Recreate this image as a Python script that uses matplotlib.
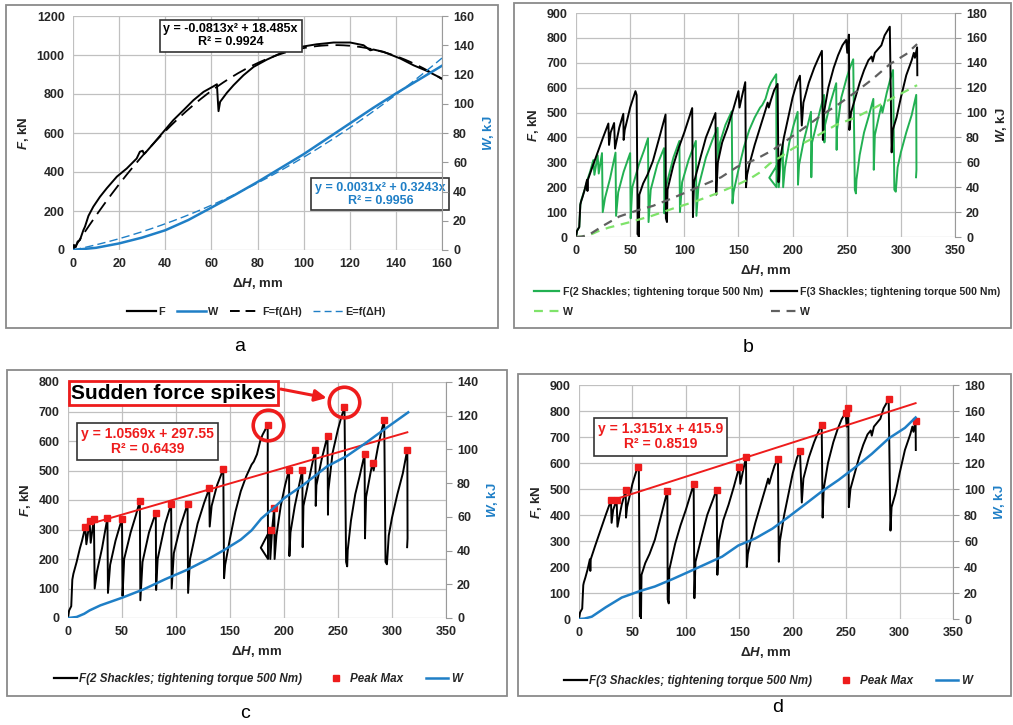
import numpy as np
import matplotlib
matplotlib.use("Agg")
import matplotlib.pyplot as plt
from matplotlib.patches import Rectangle
from matplotlib.lines import Line2D

plt.rcParams["font.family"] = ["Liberation Sans", "DejaVu Sans"]
plt.rcParams["font.weight"] = "bold"
plt.rcParams["axes.labelweight"] = "bold"
plt.rcParams["mathtext.fontset"] = "custom"
plt.rcParams["mathtext.it"] = "Liberation Sans:italic:bold"
plt.rcParams["mathtext.rm"] = "Liberation Sans:bold"

W_PX, H_PX = 1013, 725

BLUE = "#1f7fc6"
RED = "#ee1c1c"
GREEN = "#22b052"
LIGHT_GREEN = "#7fe36a"
GREY = "#606060"
TEXT = "#262626"

# single specimen, 0-160 mm  (dH mm, F kN) / (dH mm, W kJ)
a_force = [(0, 0), (0.4, 26), (1.2, 15), (2, 43), (3, 51), (4.5, 102), (5.2, 120), (6.7, 175),
           (8.8, 222), (11.7, 273), (14.6, 316), (19, 376), (23.3, 418), (27.6, 469), (29, 504),
           (30.2, 509), (30.8, 492), (31.5, 500), (34.9, 546), (39.2, 606), (43.5, 666),
           (47.9, 717), (52.2, 768), (56.6, 811), (61, 840), (62.4, 850), (62.8, 768), (63.1, 712),
           (63.8, 760), (66.7, 806), (69.6, 845), (73.9, 896), (78.3, 939), (84, 976), (91.3, 1016),
           (98.5, 1041), (105.7, 1055), (113, 1064), (120.2, 1064), (126, 1050), (128.9, 1024),
           (130.3, 1028), (134.7, 1016), (141.9, 982), (147.7, 947), (153.5, 918), (160, 879)]
a_work = [(0, 0), (10, 1.5), (20, 4.5), (30, 8.5), (40, 13.5), (50, 20.5), (60, 29), (70, 37.5),
          (80, 46.5), (90, 56), (100, 65.5), (110, 76), (120, 86.5), (130, 97), (140, 107),
          (150, 116.5), (160, 126)]
a_force_fit = [-0.0813, 18.485, 0.0]
a_work_fit = [0.0031, 0.3243, 0.0]

# 2 shackles, tightening torque 500 Nm
f2_curve = [(0, 0), (1, 25), (3, 40), (4, 130), (5, 150), (8, 190), (11, 236), (13, 262), (16, 309),
            (17, 250), (20, 328), (21, 255), (24, 337), (24.7, 100), (26.8, 157), (31.5, 236),
            (36.5, 339), (37, 85), (39, 180), (44, 262), (50, 337), (50.5, 75), (52, 200),
            (58, 290), (63, 350), (66.5, 397), (67, 60), (69, 190), (75, 290), (81.3, 357),
            (81.6, 95), (83, 200), (90, 320), (95.5, 386), (96, 100), (98, 220), (104, 310),
            (110.7, 386), (111.2, 85), (113, 200), (120, 320), (126, 390), (130.8, 439),
            (131.2, 310), (133, 380), (138, 450), (143.8, 505), (144.5, 135), (145.5, 180),
            (150, 270), (155, 360), (160, 430), (165, 480), (170, 520), (172, 530), (175, 555),
            (178, 600), (180, 620), (184.9, 654), (185.2, 200), (178.5, 238), (187, 298),
            (187.3, 200), (189, 300), (191, 375), (191.3, 200), (193, 280), (197, 380),
            (201, 450), (204.7, 503), (205, 210), (206, 290), (210, 380), (214, 450), (217, 503),
            (217.3, 240), (218, 380), (222, 450), (226, 520), (229.1, 571), (229.4, 380),
            (230, 450), (235, 540), (240.3, 618), (240.7, 350), (241, 430), (245, 560),
            (250, 640), (253, 680), (256, 714), (257.5, 190), (258.5, 175), (259, 230),
            (262, 330), (266, 420), (270, 480), (274.6, 555), (275, 270), (276, 410), (280, 490),
            (282, 527), (283, 500), (287, 580), (290, 630), (292.8, 671), (294, 190),
            (295.3, 182), (297, 280), (300, 340), (305, 420), (310, 490), (314.2, 571),
            (314.4, 270), (314, 240)]
w2_curve = [(0, 0), (8, 0.6), (15, 2.5), (20, 4.5), (30, 7.5), (50, 12), (70, 17), (90, 23),
            (110, 28.5), (130, 35), (145, 40.5), (160, 46.5), (170, 52), (179, 59), (190, 65),
            (200, 71), (218, 79), (240, 90), (258, 96), (275, 103.5), (292, 111.5), (315, 122)]
f2_peaks = [(16.1, 309), (20.1, 328), (24.1, 337), (36.5, 339), (49.8, 337), (66.5, 397),
            (81.3, 357), (95.5, 386), (110.7, 386), (130.8, 439), (143.8, 505), (184.9, 654),
            (188, 297), (190.8, 373), (204.7, 503), (217, 503), (229.1, 571), (240.3, 618),
            (256, 714), (274.6, 555), (282, 527), (292.8, 671), (314.2, 571)]
f2_trend = [1.0569, 297.55]
f2_spikes = [11, 18]

# 3 shackles, tightening torque 500 Nm
f3_curve = [(0, 0), (1, 25), (3, 40), (4, 130), (4.5, 140), (6, 160), (8, 190), (10.2, 230),
            (10.6, 185), (11, 230), (15, 280), (20, 340), (25, 400), (29.9, 456), (30.5, 370),
            (32, 420), (35.2, 458), (36, 355), (40, 440), (43.7, 495), (44, 390), (45, 430),
            (50, 520), (54.9, 586), (56, 570), (57, 10), (57.5, 120), (58, 0), (58.5, 170),
            (62, 215), (66, 250), (71, 305), (77, 400), (82.7, 492), (83, 75), (84, 60),
            (84.5, 190), (90, 290), (95, 360), (100, 420), (107.3, 518), (108, 80), (109, 220),
            (115, 320), (120, 400), (125, 455), (128.8, 498), (129.5, 170), (131, 300),
            (135, 380), (140, 440), (145, 510), (150, 586), (151, 520), (153, 560),
            (156.3, 622), (157, 200), (158, 250), (160, 290), (165, 370), (170, 440),
            (175, 510), (177, 540), (178, 520), (180, 550), (183, 590), (186.2, 615), (187, 220),
            (188, 300), (192, 400), (196, 480), (200, 560), (204, 620), (206.8, 648),
            (208.5, 448), (210, 540), (215, 620), (220, 680), (224, 720), (227.1, 748),
            (228, 390), (229, 500), (233, 600), (238, 680), (242, 730), (246, 770),
            (249.5, 792), (250.5, 740), (252, 813), (252.5, 430), (254, 500), (258, 560),
            (262, 620), (266, 670), (270, 710), (273, 725), (274, 705), (276, 740), (280, 760),
            (282, 770), (285, 810), (289.8, 845), (291.5, 340), (292.5, 430), (296, 480),
            (300, 560), (305, 650), (310, 710), (312, 740), (313, 720), (315, 762), (315.2, 650)]
w3_curve = [(0, 0), (5, 0.3), (12, 1.8), (25, 9), (40, 16.5), (57, 21.5), (71, 25), (87, 30.5),
            (103, 36.4), (118, 42), (134, 48), (149, 56.5), (165, 62), (181, 69.5), (196, 78.5),
            (212, 88.5), (227, 98), (243, 107), (259, 117), (274, 127), (290, 139), (305, 147),
            (315, 155)]
f3_peaks = [(29.9, 456), (35.2, 458), (43.7, 495), (54.9, 586), (82.7, 492), (107.3, 518),
            (128.8, 498), (150, 586), (156.3, 622), (186.2, 615), (206.8, 648), (227.1, 748),
            (249.5, 792), (252, 813), (289.8, 845), (315, 762)]
f3_trend = [1.3151, 415.9]


def xy(pairs):
    arr = np.array(pairs, dtype=float)
    return arr[:, 0], arr[:, 1]


def px_axes(fig, left, top, right, bottom):
    return fig.add_axes([left / W_PX, 1 - bottom / H_PX,
                         (right - left) / W_PX, (bottom - top) / H_PX])


def frame(fig, left, top, right, bottom):
    fig.add_artist(Rectangle((left / W_PX, 1 - bottom / H_PX), (right - left) / W_PX,
                             (bottom - top) / H_PX, transform=fig.transFigure,
                             fill=False, ec="#8a8a8a", lw=1.3))


def setup(ax, ax2, xmax, xstep, ymax, ystep, wmax, wstep, wcolor):
    ax.set_xlim(0, xmax)
    ax.set_xticks(np.arange(0, xmax + 1, xstep))
    ax.set_ylim(0, ymax)
    ax.set_yticks(np.arange(0, ymax + 1, ystep))
    ax2.set_ylim(0, wmax)
    ax2.set_yticks(np.arange(0, wmax + 1, wstep))
    ax.grid(True, color="#c0c0c0", lw=0.9)
    ax.set_axisbelow(True)
    for s in list(ax.spines.values()) + list(ax2.spines.values()):
        s.set_visible(False)
    ax2.spines["right"].set_visible(True)
    ax2.spines["right"].set_color("#9a9a9a")
    ax.tick_params(length=0, labelsize=9, pad=6, labelcolor=TEXT)
    ax2.tick_params(axis="y", length=4, color="#9a9a9a", labelsize=9, pad=4, labelcolor=TEXT)
    ax.set_xlabel(r"$\mathit{ΔH}$, mm", fontsize=9.5, color=TEXT, labelpad=4, fontweight="bold")
    ax.set_ylabel(r"$\mathit{F}$, kN", fontsize=9.5, color=TEXT, labelpad=4, fontweight="bold")
    ax2.set_ylabel(r"$\mathit{W}$, kJ", fontsize=9.5, color=wcolor, rotation=90, labelpad=5,
                   fontweight="bold")


def eq_box(ax, x, y, text, color, size):
    ax.text(x, y, text, transform=ax.transAxes, ha="center", va="center", color=color,
            fontsize=size, fontweight="bold", linespacing=1.1, zorder=6,
            bbox=dict(boxstyle="square,pad=0.3", fc="white", ec="#333333", lw=1.2))


def panel_a(fig):
    ax = px_axes(fig, 73, 16, 442, 250)
    ax2 = ax.twinx()
    setup(ax, ax2, 160, 20, 1200, 200, 160, 20, BLUE)

    fx, fy = xy(a_force)
    wx, wy = xy(a_work)
    grid = np.linspace(0, 160, 200)
    ax.plot(fx, fy, color="black", lw=1.4)
    ax.plot(grid, np.polyval(a_force_fit, grid), color="black", lw=1.3, dashes=(8, 4))
    ax2.plot(wx, wy, color=BLUE, lw=1.8)
    ax2.plot(grid, np.polyval(a_work_fit, grid), color=BLUE, lw=1.0, dashes=(6, 3))

    eq_box(ax, 0.427, 0.915, "y = -0.0813x² + 18.485x\nR² = 0.9924", "black", 9)
    eq_box(ax, 0.833, 0.239, "y = 0.0031x² + 0.3243x\nR² = 0.9956", BLUE, 9)

    handles = [Line2D([], [], color="black", lw=1.6),
               Line2D([], [], color=BLUE, lw=1.8),
               Line2D([], [], color="black", lw=1.4, dashes=(5, 3)),
               Line2D([], [], color=BLUE, lw=1.0, dashes=(5, 3))]
    labels = ["F", "W", "F=f(ΔH)", "E=f(ΔH)"]
    fig.legend(handles, labels, loc="center", bbox_to_anchor=(256 / W_PX, 1 - 312 / H_PX),
               ncol=4, frameon=False, handlelength=2.7, handletextpad=0.2,
               columnspacing=1.1, labelcolor=TEXT, prop=dict(size=7.8, weight="bold"))


def panel_b(fig):
    ax = px_axes(fig, 576, 13, 955, 237)
    ax2 = ax.twinx()
    setup(ax, ax2, 350, 50, 900, 100, 180, 20, TEXT)

    x2, y2 = xy(f2_curve)
    x3, y3 = xy(f3_curve)
    wx2, wy2 = xy(w2_curve)
    wx3, wy3 = xy(w3_curve)
    ax.plot(x2, y2, color=GREEN, lw=1.4)
    ax.plot(x3, y3, color="black", lw=1.4)
    ax2.plot(wx2, wy2, color=LIGHT_GREEN, lw=1.6, dashes=(4, 3))
    ax2.plot(wx3, wy3, color=GREY, lw=1.6, dashes=(4, 3))

    handles = [Line2D([], [], color=GREEN, lw=1.6),
               Line2D([], [], color=LIGHT_GREEN, lw=1.6, dashes=(4, 3)),
               Line2D([], [], color="black", lw=1.6),
               Line2D([], [], color=GREY, lw=1.6, dashes=(4, 3))]
    labels = ["F(2 Shackles; tightening torque 500 Nm)", "W",
              "F(3 Shackles; tightening torque 500 Nm)", "W"]
    fig.legend(handles, labels, loc="center", bbox_to_anchor=(767 / W_PX, 1 - 302 / H_PX),
               ncol=2, frameon=False, handlelength=2.4, handletextpad=0.3,
               columnspacing=0.8, labelspacing=0.95, labelcolor=TEXT,
               prop=dict(size=7.6, weight="bold"))


def shackle_panel(fig, box, curve, work, peaks, trend, eq_pos, eq_text, legend_label,
                  legend_x, legend_y, ymax):
    ax = px_axes(fig, *box)
    ax2 = ax.twinx()
    wmax = 140 if ymax == 800 else 180
    setup(ax, ax2, 350, 50, ymax, 100, wmax, 20, BLUE)

    cx, cy = xy(curve)
    wx, wy = xy(work)
    px, py = xy(peaks)
    tx = np.array([px[0], px[-1]])
    ax.plot(cx, cy, color="black", lw=1.4)
    ax.plot(tx, np.polyval(trend, tx), color=RED, lw=1.4, zorder=3)
    ax.plot(px, py, "s", color=RED, ms=4.5, zorder=4)
    ax2.plot(wx, wy, color=BLUE, lw=1.8)

    eq_box(ax, eq_pos[0], eq_pos[1], eq_text, RED, 10)

    handles = [Line2D([], [], color="black", lw=1.6),
               Line2D([], [], color=RED, marker="s", ms=4.5, ls="none"),
               Line2D([], [], color=BLUE, lw=1.8)]
    labels = [legend_label, "Peak Max", "W"]
    fig.legend(handles, labels, loc="center", bbox_to_anchor=(legend_x / W_PX, 1 - legend_y / H_PX),
               ncol=3, frameon=False, handlelength=1.9, handletextpad=0.2, columnspacing=2.0,
               labelcolor=TEXT, prop=dict(size=8.4, style="italic", weight="bold"))
    return ax, px, py


def main():
    fig = plt.figure(figsize=(W_PX / 100, H_PX / 100), dpi=100)

    frame(fig, 6, 5, 498, 328)
    frame(fig, 514, 3, 1011, 328)
    frame(fig, 7, 370, 507, 696)
    frame(fig, 518, 374, 1011, 696)

    panel_a(fig)
    panel_b(fig)

    ax_c, px, py = shackle_panel(fig, (68, 382, 446, 618), f2_curve, w2_curve, f2_peaks, f2_trend,
                                 (0.210, 0.748), "y = 1.0569x + 297.55\nR² = 0.6439",
                                 "F(2 Shackles; tightening torque 500 Nm)", 258, 679, 800)
    # highlight the two abrupt spikes
    ax_c.plot(px[f2_spikes], py[f2_spikes] + [0, 18], "o", ms=22, mfc="none", mec=RED, mew=2.6,
              zorder=5, clip_on=False)
    ax_c.text(0.279, 0.953, "Sudden force spikes", transform=ax_c.transAxes, ha="center",
              va="center", fontsize=15, fontweight="bold", color="black", zorder=7,
              bbox=dict(boxstyle="square,pad=0.12", fc="white", ec=RED, lw=2))
    ax_c.annotate("", xy=(239.5, 746), xycoords="data", xytext=(0.563, 0.97),
                  textcoords="axes fraction",
                  arrowprops=dict(arrowstyle="-|>,head_length=0.7,head_width=0.35", color=RED,
                                  lw=2.2, shrinkA=0, shrinkB=0), zorder=7)

    shackle_panel(fig, (579, 385, 953, 619), f3_curve, w3_curve, f3_peaks, f3_trend,
                  (0.218, 0.778), "y = 1.3151x + 415.9\nR² = 0.8519",
                  "F(3 Shackles; tightening torque 500 Nm)", 768, 681, 900)

    for letter, x, y in [("a", 240, 347), ("b", 748, 348), ("c", 245, 714), ("d", 778, 708)]:
        fig.text(x / W_PX, 1 - y / H_PX, letter, fontsize=14, fontweight="normal",
                 ha="center", va="center", color="black")

    fig.savefig("out.png", dpi=100)


if __name__ == "__main__":
    main()
